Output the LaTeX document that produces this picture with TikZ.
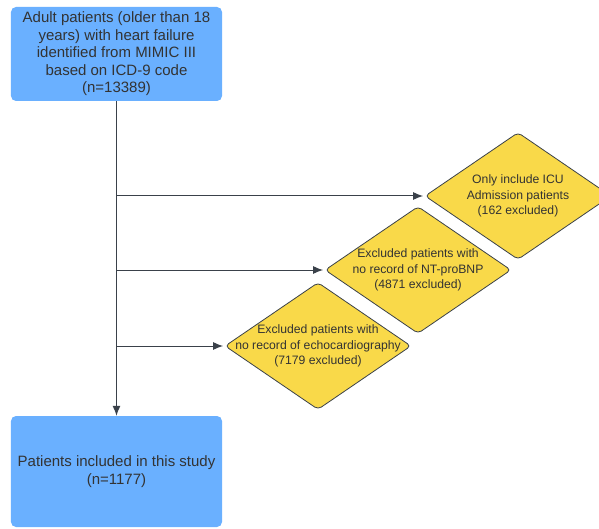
\documentclass[tikz,border=0pt]{standalone}
\usepackage{fontspec}
\setmainfont{Liberation Sans}
\usetikzlibrary{shapes.geometric}
\usetikzlibrary{arrows.meta}
\definecolor{boxColor}{HTML}{6AB0FF}
\definecolor{diaColor}{HTML}{F9D949}
\definecolor{lineColor}{HTML}{3A414A}
\definecolor{textColor}{HTML}{333333}
\def\textCohort{Adult patients (older than 18\\years) with heart failure\\identified from MIMIC III\\based on ICD-9 code\\(n=13389)}
\def\textFinal{Patients included in this study\\(n=1177)}
\def\textA{Only include ICU\\Admission patients\\(162 excluded)}
\def\textB{Excluded patients with\\no record of NT-proBNP\\(4871 excluded)}
\def\textC{Excluded patients with\\no record of echocardiography\\(7179 excluded)}

\begin{document}
\begin{tikzpicture}[x=1bp,y=-1bp,
box/.style={rectangle, rounded corners=5bp, fill=boxColor, minimum width=211bp,
inner sep=0pt, align=center, text=textColor, font=\fontsize{15bp}{17.5bp}\selectfont},
dia/.style={diamond, rounded corners=4bp, fill=diaColor, draw=lineColor,
line width=0.8bp, minimum width=186bp, minimum height=127bp, inner sep=0pt},
diaText/.style={align=center, text=textColor, font=\fontsize{12.2bp}{15.5bp}\selectfont},
arr/.style={draw=lineColor, line width=1bp, -{Latex[length=10bp,width=8bp]}}]

% page
\useasboundingbox (0, 0) rectangle (599, 529);

% box layer
\begin{scope}
\node[box, minimum height=94bp] (cohort) at (116.5, 54) {\textCohort};
\node[box, minimum height=111bp] (final) at (116.5, 471.5) {\textFinal};
\end{scope}

% diamond layer
\begin{scope}
\node[dia] (exA) at (518, 196) {};
\node[diaText] (exAText) at (exA) {\textA};
\node[dia] (exB) at (418, 270) {};
\node[diaText] (exBText) at (exB) {\textB};
\node[dia] (exC) at (318, 346) {};
\node[diaText] (exCText) at (exC) {\textC};
\end{scope}

% link layer
\begin{scope}
\draw[arr] (cohort) -- (final);
\draw[arr, shorten >=1.5bp] (cohort.south |- exA.west) -- (exA.west);
\draw[arr, shorten >=1.5bp] (cohort.south |- exB.west) -- (exB.west);
\draw[arr, shorten >=1.5bp] (cohort.south |- exC.west) -- (exC.west);
\end{scope}

\end{tikzpicture}
\end{document}
